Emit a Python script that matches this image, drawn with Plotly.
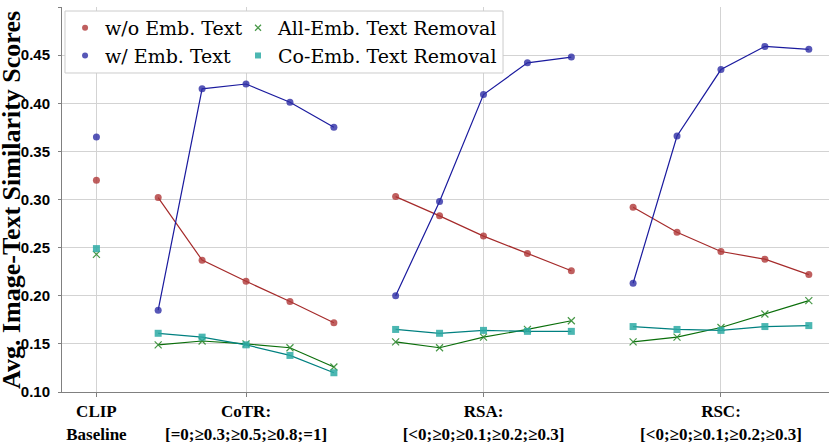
import plotly.graph_objects as go

# ---- data ----
tick_labels = ["CLIP<br>Baseline", "CoTR:<br>[=0;≥0.3;≥0.5;≥0.8;=1]",
               "RSA:<br>[&lt;0;≥0;≥0.1;≥0.2;≥0.3]", "RSC:<br>[&lt;0;≥0;≥0.1;≥0.2;≥0.3]"]
clip_x = 0.37
group_centers = [1, 2, 3]
point_offsets = [-0.37, -0.185, 0.0, 0.185, 0.37]

clip_wo = 0.320
clip_w = 0.365
clip_all = 0.243
clip_co = 0.249

wo_emb = [[0.302, 0.237, 0.215, 0.194, 0.172],
          [0.303, 0.283, 0.262, 0.244, 0.226],
          [0.292, 0.266, 0.246, 0.238, 0.222]]
w_emb = [[0.185, 0.415, 0.420, 0.401, 0.375],
         [0.200, 0.298, 0.409, 0.442, 0.448],
         [0.213, 0.366, 0.435, 0.459, 0.456]]
all_rm = [[0.149, 0.153, 0.150, 0.146, 0.126],
          [0.152, 0.146, 0.157, 0.165, 0.174],
          [0.152, 0.157, 0.167, 0.181, 0.195]]
co_rm = [[0.161, 0.157, 0.149, 0.138, 0.120],
         [0.165, 0.161, 0.164, 0.163, 0.163],
         [0.168, 0.165, 0.164, 0.168, 0.169]]

series = [
    ("w/o Emb. Text", wo_emb, clip_wo, "#a52a2a", "rgba(175,55,55,0.8)", "circle", "legend"),
    ("w/ Emb. Text", w_emb, clip_w, "#1a1a9e", "rgba(45,45,165,0.8)", "circle", "legend"),
    ("All-Emb. Text Removal", all_rm, clip_all, "#0a6e0a", "rgba(50,140,50,0.9)", "x-thin-open", "legend2"),
    ("Co-Emb. Text Removal", co_rm, clip_co, "#008080", "rgba(45,170,165,0.85)", "square", "legend2"),
]

fig = go.Figure()
for name, vals, cv, lc, mc, sym, leg in series:
    mk = dict(color=mc, symbol=sym, size=7)
    if sym == "x-thin-open":
        mk["line"] = dict(color=mc, width=1.2)
    fig.add_trace(go.Scatter(x=[clip_x], y=[cv], mode="markers", marker=mk,
                             showlegend=False, hoverinfo="skip"))
    for g, c in enumerate(group_centers):
        xs = [c + o for o in point_offsets]
        fig.add_trace(go.Scatter(x=xs, y=vals[g], mode="lines+markers",
                                 line=dict(color=lc, width=1.2), marker=mk,
                                 showlegend=False))
    lmk = dict(mk)
    lmk["size"] = 6
    fig.add_trace(go.Scatter(x=[None], y=[None], mode="markers", marker=lmk,
                             name=name, showlegend=True, legend=leg))

legfont = dict(family="DejaVu Serif", size=19, color="black")
fig.update_layout(
    width=830, height=442,
    margin=dict(l=62, r=1, t=7, b=50, autoexpand=False),
    plot_bgcolor="white", paper_bgcolor="white",
    font=dict(family="Liberation Serif", color="black"),
    legend=dict(x=0.004, y=0.995, xanchor="left", yanchor="top",
                bgcolor="rgba(0,0,0,0)", borderwidth=0, font=legfont,
                itemwidth=30, tracegroupgap=0),
    legend2=dict(x=0.2295, y=0.995, xanchor="left", yanchor="top",
                 bgcolor="rgba(0,0,0,0)", borderwidth=0, font=legfont,
                 itemwidth=30, tracegroupgap=0),
    shapes=[dict(type="rect", xref="paper", yref="paper", x0=0.0039, x1=0.575,
                 y0=0.8286, y1=0.9896, line=dict(color="#cccccc", width=1),
                 fillcolor="white", layer="above")],
    annotations=[dict(text="Avg. Image-Text Similarity Scores", textangle=-90,
                      xref="paper", yref="paper", x=-0.066, y=0.5,
                      xanchor="center", yanchor="middle", showarrow=False,
                      font=dict(family="Liberation Serif", size=26, weight="bold"))],
)
fig.update_xaxes(range=[0.225, 3.455], tickvals=[clip_x] + group_centers,
                 ticktext=tick_labels, showgrid=True, gridcolor="#d3d3d3", gridwidth=1,
                 showline=True, linecolor="#808080", linewidth=1, zeroline=False,
                 ticks="outside", ticklen=4, tickcolor="#808080", automargin=False,
                 tickfont=dict(family="Liberation Serif", size=17, weight="bold"))
fig.update_yaxes(range=[0.10, 0.50], dtick=0.05, tickformat=".2f",
                 showgrid=True, gridcolor="#d3d3d3", gridwidth=1,
                 showline=True, linecolor="#808080", linewidth=1, zeroline=False,
                 ticks="outside", ticklen=3, tickcolor="#808080", automargin=False,
                 ticklabelstandoff=5,
                 tickfont=dict(family="Liberation Sans", size=15, weight="bold"))

fig.write_html("out.html", config={"displayModeBar": False},
               post_script="document.body.style.margin='0';document.body.style.padding='0';")
